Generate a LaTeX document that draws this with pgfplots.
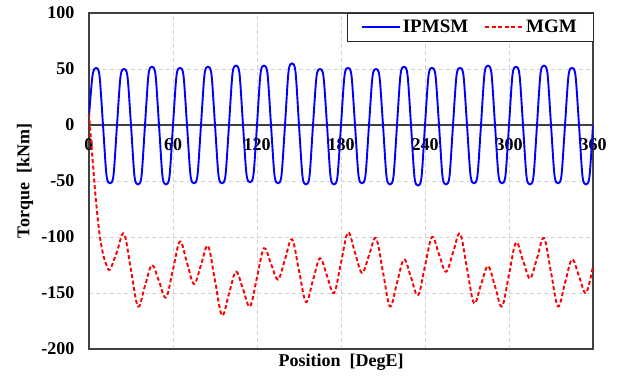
\documentclass[border=0pt]{standalone}
\usepackage{fontspec}
\setmainfont{Liberation Serif}
\usepackage{pgfplots}
\pgfplotsset{compat=1.18}
\begin{document}
\begin{tikzpicture}
\begin{axis}[
  scale only axis, width=504pt, height=336pt,
  xmin=0, xmax=360, ymin=-200, ymax=100,
  xtick={0,60,120,180,240,300,360},
  xticklabels={0,60,120,180,240,300,360},
  ytick={-200,-150,-100,-50,0,50,100},
  yticklabels={-200,-150,-100,-50,0,50,100},
  major tick length=0pt,
  grid=major,
  major grid style={draw=black!18, line width=0.9pt, dash pattern=on 4pt off 3pt},
  axis line style={draw=black!75, line width=1.4pt},
  tick label style={font=\fontsize{18}{21}\selectfont\bfseries},
  x tick label style={yshift=214pt},
  y tick label style={xshift=-11pt},
  xlabel={Position\ \ [DegE]},
  ylabel={Torque\ \ [kNm]},
  label style={font=\fontsize{18}{21}\selectfont\bfseries},
  xlabel style={at={(axis description cs:0.5,0)}, anchor=north, yshift=-1pt},
  ylabel style={at={(axis description cs:0,0.5)}, anchor=center, yshift=64pt},
  legend style={at={(1,1)}, anchor=north east, legend columns=2,
    draw=black!85, fill=white,
    font=\fontsize{19}{22}\selectfont\bfseries,
    inner xsep=14pt, inner ysep=5pt,
    /tikz/every even column/.append style={column sep=14pt}},
  legend image code/.code={\draw[#1] (0pt,0pt) -- (38pt,0pt);},
  clip=true,
]
\addplot[draw=black!75, line width=1.4pt, forget plot] coordinates {(0,0) (360,0)};
\addplot[blue, line width=1.9pt, smooth, tension=0.5] coordinates {
(0,8)(2.5,44.1)(5,51)(7.5,44.1)(10,0)(12.5,-44.9)(15,-52)(17.5,-44.9)
(20,0)(22.5,43.2)(25,50)(27.5,43.2)(30,0)(32.5,-45.8)(35,-53)(37.5,-45.8)
(40,0)(42.5,44.9)(45,52)(47.5,44.9)(50,0)(52.5,-45.8)(55,-53)(57.5,-45.8)
(60,0)(62.5,44.1)(65,51)(67.5,44.1)(70,0)(72.5,-44.9)(75,-52)(77.5,-44.9)
(80,0)(82.5,44.9)(85,52)(87.5,44.9)(90,0)(92.5,-44.9)(95,-52)(97.5,-44.9)
(100,0)(102.5,45.8)(105,53)(107.5,45.8)(110,0)(112.5,-44.1)(115,-51)(117.5,-44.1)
(120,0)(122.5,45.8)(125,53)(127.5,45.8)(130,0)(132.5,-44.9)(135,-52)(137.5,-44.9)
(140,0)(142.5,47.5)(145,55)(147.5,47.5)(150,0)(152.5,-45.8)(155,-53)(157.5,-45.8)
(160,0)(162.5,43.2)(165,50)(167.5,43.2)(170,0)(172.5,-45.8)(175,-53)(177.5,-45.8)
(180,0)(182.5,44.1)(185,51)(187.5,44.1)(190,0)(192.5,-44.9)(195,-52)(197.5,-44.9)
(200,0)(202.5,43.2)(205,50)(207.5,43.2)(210,0)(212.5,-45.8)(215,-53)(217.5,-45.8)
(220,0)(222.5,44.9)(225,52)(227.5,44.9)(230,0)(232.5,-46.7)(235,-54)(237.5,-46.7)
(240,0)(242.5,44.1)(245,51)(247.5,44.1)(250,0)(252.5,-45.8)(255,-53)(257.5,-45.8)
(260,0)(262.5,44.1)(265,51)(267.5,44.1)(270,0)(272.5,-44.9)(275,-52)(277.5,-44.9)
(280,0)(282.5,45.8)(285,53)(287.5,45.8)(290,0)(292.5,-44.9)(295,-52)(297.5,-44.9)
(300,0)(302.5,44.9)(305,52)(307.5,44.9)(310,0)(312.5,-45.8)(315,-53)(317.5,-45.8)
(320,0)(322.5,45.8)(325,53)(327.5,45.8)(330,0)(332.5,-44.9)(335,-52)(337.5,-44.9)
(340,0)(342.5,44.1)(345,51)(347.5,44.1)(350,0)(352.5,-45.8)(355,-53)(357.5,-45.8)
(360,0)
};
\addlegendentry{IPMSM}
\addplot[red, line width=1.9pt, dash pattern=on 4pt off 2.5pt, smooth, tension=0.6] coordinates {
(0,10)(2.5,-30)(5,-68)(7.5,-97)(10,-115)(12.5,-125)(15,-129)
(20,-113)(25,-97)(30,-129.5)(35,-162)(40,-143.5)(45,-125)(50,-139.5)(55,-154)
(60,-129)(65,-104)(70,-123)(75,-142)(80,-125)(85,-108)(90,-139)(95,-170)
(100,-150.5)(105,-131)(110,-146.5)(115,-162)(120,-136)(125,-110)(130,-124)(135,-138)
(140,-120)(145,-102)(150,-130)(155,-158)(160,-138.5)(165,-119)(170,-134.5)(175,-150)
(180,-123)(185,-96)(190,-114)(195,-132)(200,-116.5)(205,-101)(210,-131.5)(215,-162)
(220,-141)(225,-120)(230,-136)(235,-152)(240,-126)(245,-100)(250,-115.5)(255,-131)
(260,-114)(265,-97)(270,-128)(275,-159)(280,-142.5)(285,-126)(290,-144)(295,-162)
(300,-133.5)(305,-105)(310,-121)(315,-137)(320,-119)(325,-101)(330,-131.5)(335,-162)
(340,-141)(345,-120)(350,-135)(355,-150)(360,-126)
};
\addlegendentry{MGM}
\end{axis}
\pgfresetboundingbox
\path ([shift={(-89pt,-27pt)}]current axis.south west) rectangle ([shift={(24pt,13pt)}]current axis.north east);
\end{tikzpicture}
\end{document}
